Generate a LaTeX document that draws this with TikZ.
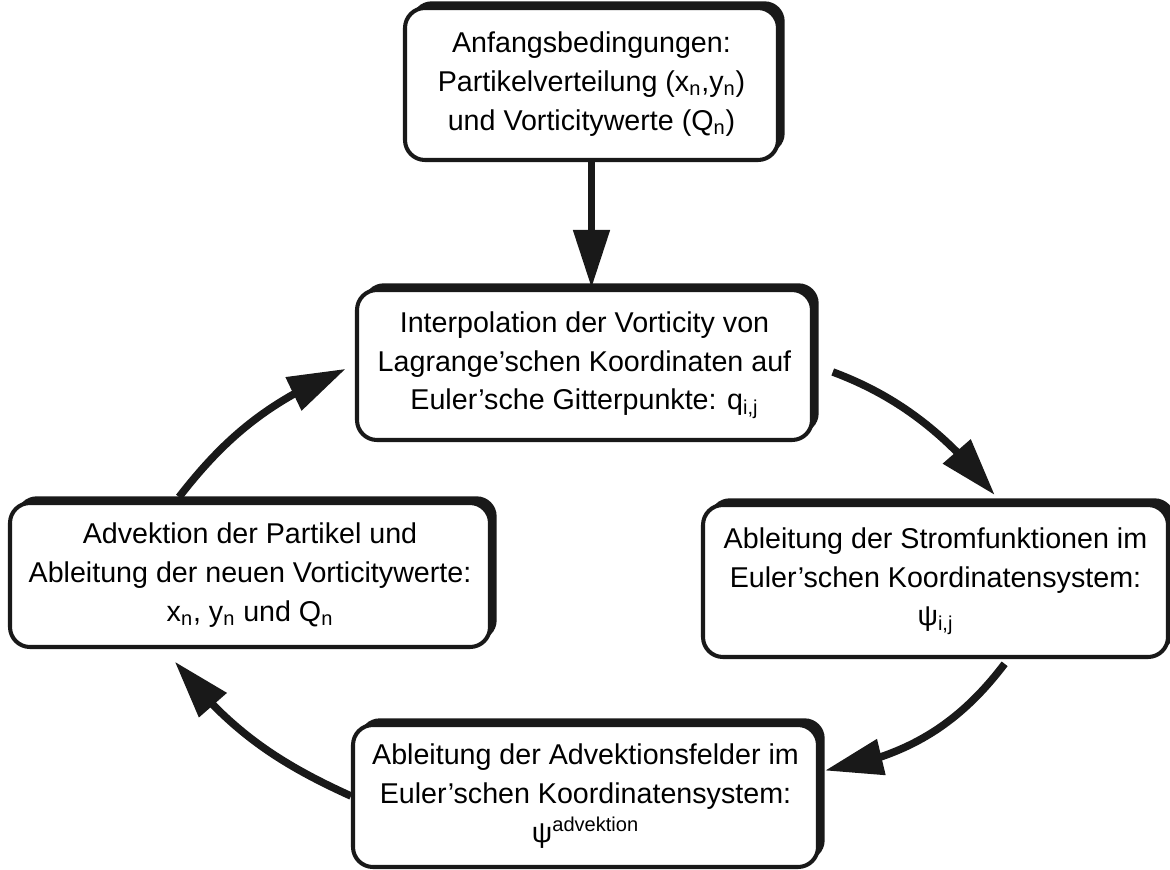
\documentclass[tikz,border=0pt]{standalone}
\usepackage{fontspec}
\setmainfont{Liberation Sans}
\usepackage{tikz}
\usetikzlibrary{arrows.meta, bending, shadows, positioning}
\definecolor{myink}{RGB}{25,25,25}
\tikzset{
  block/.style={rectangle, draw=myink, fill=white, line width=2.3pt,
    rounded corners=0.4cm, align=center, inner sep=0pt,
    font=\fontsize{16.3}{22}\selectfont,
    drop shadow={shadow xshift=3.8pt, shadow yshift=3.8pt, fill=myink, opacity=1}},
  arrow/.style={-{Triangle[length=33pt, width=20pt, flex]}, line width=4.3pt, color=myink}
}

\begin{document}
\begin{tikzpicture}
  \useasboundingbox (0,0) rectangle (23.4,-17.4);

  % Boxes
  \node[block, minimum width=7.46cm, minimum height=3.04cm] (start) at (11.83,-1.68)
    {Anfangsbedingungen:\\ Partikelverteilung (x\textsubscript{n},y\textsubscript{n})\\ und Vorticitywerte (Q\textsubscript{n})};
  \node[block, minimum width=9.1cm, minimum height=3.0cm] (interp) at (11.69,-7.30)
    {Interpolation der Vorticity von\\ Lagrange'schen Koordinaten auf\\ Euler'sche Gitterpunkte: q\textsubscript{i,j}};
  \node[block, minimum width=9.3cm, minimum height=3.04cm] (strom) at (18.71,-11.62)
    {Ableitung der Stromfunktionen im\\ Euler'schen Koordinatensystem:\\ ψ\textsubscript{i,j}};
  \node[block, minimum width=9.3cm, minimum height=2.84cm] (advfeld) at (11.71,-15.92)
    {Ableitung der Advektionsfelder im\\ Euler'schen Koordinatensystem:\\ ψ\textsuperscript{advektion}};
  \node[block, minimum width=9.6cm, minimum height=2.88cm] (partikel) at (5.0,-11.5)
    {Advektion der Partikel und\\ Ableitung der neuen Vorticitywerte:\\ x\textsubscript{n}, y\textsubscript{n} und Q\textsubscript{n}};

  % Cycle
  \draw[arrow] (start.south) -- (start.south |- interp.north);
  \draw[arrow, shorten <=0.4cm, shorten >=0.2cm] (interp.east) to[bend left=16] (strom.50);
  \draw[arrow, shorten <=0.12cm, shorten >=0.1cm] (strom.-47) to[bend left=22] (advfeld.6);
  \draw[arrow, shorten >=0.32cm] (advfeld.west) to[bend left=14] (partikel.221);
  \draw[arrow, shorten <=0.1cm, shorten >=0.2cm] (partikel.135) to[bend left=15] (interp.west);
\end{tikzpicture}
\end{document}
